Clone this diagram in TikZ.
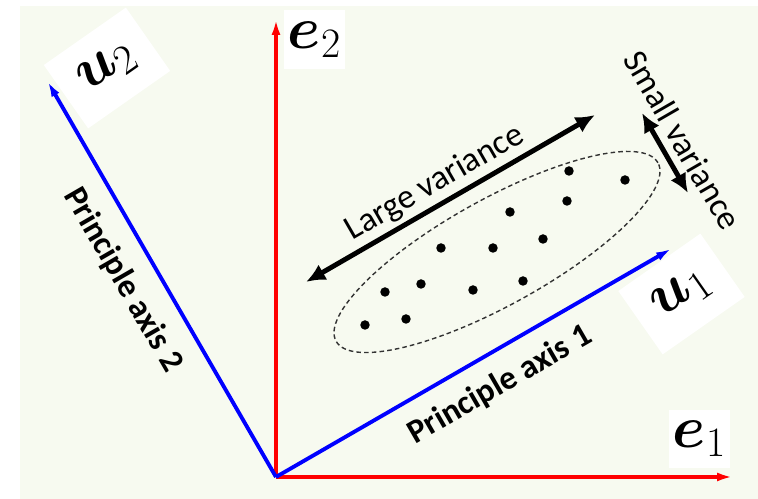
\RequirePackage{fix-cm}
\documentclass[tikz,border=0pt]{standalone}
\usepackage{amsmath}
\usepackage{bm}
\usepackage[no-math]{fontspec}
\setmainfont{Carlito}
\usetikzlibrary{arrows.meta, positioning, calc}
\definecolor{paper}{RGB}{247,250,240}

\begin{document}
\begin{tikzpicture}[
    x=0.02cm, y=0.02cm,
    redaxis/.style={draw=red, line width=2.2pt, -{Latex[length=9pt,width=5pt]}},
    blueaxis/.style={draw=blue, line width=2.2pt, -{Latex[length=9pt,width=5pt]}},
    vecbox/.style={fill=white, inner sep=0pt, font=\fontsize{34}{36}\selectfont},
    spread/.style={line width=2.8pt, {Latex[length=11pt,width=10pt]}-{Latex[length=11pt,width=10pt]}},
    axistext/.style={font=\fontsize{19}{22}\selectfont\bfseries},
    vartext/.style={font=\fontsize{19.5}{22}\selectfont},
    sample/.style={circle, fill=black, inner sep=0pt, minimum size=5.4pt}
]
    \useasboundingbox (0,0) rectangle (758,499);
    \fill[paper] (20,0) rectangle (758,493);

    \coordinate (O) at (276,22);
    \coordinate (e1) at (733,22);
    \coordinate (e2) at (276,480);
    \coordinate (u1) at ($(O)+(30:457)$);
    \coordinate (u2) at ($(O)+(120:457)$);
    \coordinate (cloud) at (497,247);

    \node[vecbox, minimum width=34.6pt, minimum height=33.5pt] (e1lab) at (699.5,60) {$\bm{e}_1$};
    \node[vecbox, minimum width=34.6pt, minimum height=33.5pt] (e2lab) at (314.5,459.5) {$\bm{e}_2$};
    \node[vecbox, minimum width=57pt, minimum height=44pt, rotate=35] (u1lab) at (681.5,205) {$\bm{u}_1$};
    \node[vecbox, minimum width=57pt, minimum height=44pt, rotate=35] (u2lab) at (107,431) {$\bm{u}_2$};

    \draw[redaxis] (O) -- (e1);
    \draw[redaxis] (O) -- (e2);
    \draw[blueaxis] (O) -- (u1);
    \draw[blueaxis] (O) -- (u2);

    \draw[black!80, line width=0.8pt, dash pattern=on 2.6pt off 1.8pt, rotate around={29:(cloud)}]
        (cloud) ellipse (184 and 53);
    \foreach \px/\py [count=\i] in {365/174, 406/180, 385/207, 421/215, 441/251, 473/209, 493/251,
                                    523/218, 510/287, 543/260, 567/298, 569/328, 625/319}
        \node[sample] (p\i) at (\px,\py) {};

    \coordinate (lv1) at (306,217);
    \coordinate (lv2) at (595,384);
    \coordinate (sv1) at (642,386);
    \coordinate (sv2) at (688,306);
    \draw[spread] (lv1) -- (lv2);
    \draw[spread] (sv1) -- (sv2);

    \node[vartext, rotate=30] (large) at (435,316) {Large variance};
    \node[vartext, rotate=-60] (small) at (683,359) {Small variance};
    \node[axistext, rotate=30] (pa1) at (500,114) {Principle axis 1};
    \node[axistext, rotate=-60] (pa2) at (123,219) {Principle axis 2};
\end{tikzpicture}
\end{document}
